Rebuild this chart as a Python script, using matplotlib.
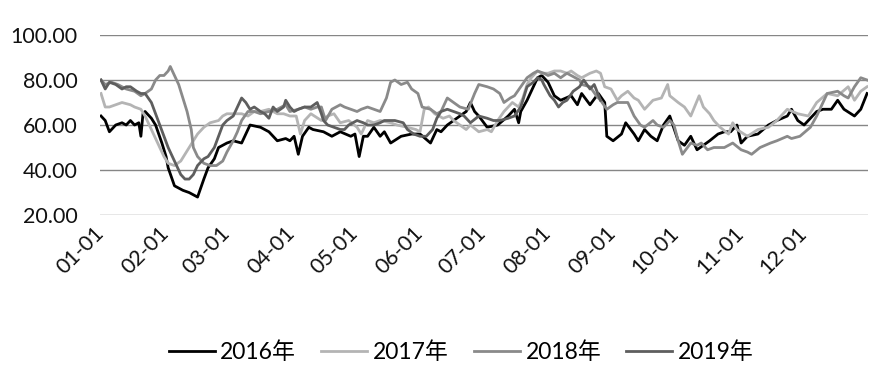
import matplotlib.pyplot as plt
import numpy as np

plt.rcParams['font.family'] = ['Lato', 'Noto Sans CJK SC', 'DejaVu Sans']

# day index on a 366-day (leap year) axis
days_2016 = [0, 2, 4, 7, 10, 12, 14, 16, 18, 19, 20, 21, 24, 26, 29, 31, 32, 35, 39, 42,
             44, 46, 49, 51, 54, 56, 60, 63, 67, 70, 71, 76, 80, 84, 88, 90, 92, 94, 96, 99,
             101, 106, 110, 114, 119, 121, 123, 125, 127, 130, 133, 135, 138, 143, 148, 152, 157, 160, 162, 165,
             168, 171, 174, 176, 178, 180, 184, 189, 194, 197, 199, 200, 203, 206, 208, 210, 213, 216, 219, 224,
             227, 229, 233, 237, 240, 241, 244, 248, 250, 254, 256, 259, 262, 265, 268, 271, 275, 278, 281, 284,
             287, 290, 294, 297, 300, 303, 305, 308, 313, 318, 322, 327, 329, 332, 335, 338, 341, 344, 348, 351,
             354, 359, 362, 365]
vals_2016 = [64, 62, 57, 60, 61, 60, 62, 60, 61, 55, 65, 66, 63, 60, 52, 46, 41, 33, 31, 30,
             29, 28, 36, 41, 45, 50, 52, 53, 52, 58, 60, 59, 57, 53, 54, 53, 55, 47, 55, 59,
             58, 57, 55, 57, 55, 56, 46, 55, 55, 59, 55, 57, 52, 55, 56, 56, 52, 58, 57, 60,
             62, 64, 66, 70, 66, 64, 59, 60, 64, 67, 61, 66, 71, 77, 81, 82, 79, 73, 71, 73,
             69, 74, 69, 74, 70, 55, 53, 56, 61, 56, 53, 58, 55, 53, 60, 64, 53, 51, 55, 49,
             51, 53, 56, 57, 57, 60, 52, 55, 56, 60, 62, 64, 67, 62, 60, 63, 66, 67, 67, 71,
             67, 64, 67, 74]

days_2017 = [0, 2, 4, 7, 10, 14, 16, 19, 21, 24, 26, 28, 30, 32, 35, 38, 40, 42, 44, 46,
             49, 52, 56, 58, 60, 63, 67, 70, 73, 76, 80, 84, 87, 90, 93, 95, 97, 100, 105, 108,
             111, 114, 118, 122, 124, 127, 130, 133, 138, 141, 146, 150, 152, 154, 156, 159, 163, 166, 168, 171,
             174, 176, 180, 184, 186, 189, 192, 196, 199, 201, 203, 205, 208, 210, 213, 216, 219, 222, 224, 227,
             229, 233, 236, 238, 240, 243, 246, 248, 251, 254, 256, 259, 263, 267, 270, 271, 275, 278, 281, 285,
             287, 290, 292, 295, 299, 301, 303, 308, 313, 318, 322, 327, 332, 337, 341, 346, 351, 356, 359, 362,
             365]
vals_2017 = [74, 68, 68, 69, 70, 69, 68, 67, 64, 58, 54, 50, 46, 43, 42, 44, 47, 50, 53, 56,
             59, 61, 62, 64, 65, 65, 65, 64, 66, 66, 67, 65, 65, 64, 64, 56, 62, 65, 62, 64,
             65, 61, 62, 59, 56, 62, 61, 62, 61, 60, 59, 58, 57, 67, 68, 65, 63, 64, 62, 60,
             58, 60, 57, 58, 57, 62, 66, 70, 68, 72, 78, 81, 84, 83, 83, 84, 84, 83, 84, 82,
             81, 83, 84, 83, 77, 76, 71, 73, 75, 72, 71, 67, 71, 72, 78, 73, 70, 68, 64, 73,
             68, 65, 62, 59, 56, 61, 58, 55, 58, 59, 62, 67, 65, 64, 70, 74, 73, 77, 71, 75,
             77]

days_2018 = [0, 2, 5, 8, 12, 16, 19, 21, 24, 26, 28, 30, 32, 33, 35, 37, 39, 41, 43, 44,
             46, 49, 52, 55, 58, 60, 63, 65, 67, 70, 73, 76, 80, 84, 88, 90, 94, 97, 100, 103,
             105, 107, 110, 114, 116, 119, 122, 124, 127, 130, 133, 136, 138, 140, 143, 146, 148, 151, 153, 157,
             160, 162, 165, 168, 171, 175, 178, 180, 184, 187, 190, 192, 195, 197, 200, 203, 206, 208, 211, 213,
             216, 219, 222, 224, 228, 229, 233, 236, 238, 241, 244, 246, 251, 254, 257, 259, 263, 265, 268, 271,
             273, 275, 277, 281, 284, 286, 289, 292, 294, 297, 301, 305, 308, 310, 314, 319, 322, 327, 329, 333,
             338, 341, 343, 346, 351, 354, 356, 359, 362, 365]
vals_2018 = [80, 78, 79, 78, 76, 75, 73, 74, 76, 80, 82, 82, 84, 86, 82, 78, 72, 66, 58, 50,
             46, 43, 42, 42, 44, 48, 53, 57, 62, 66, 66, 65, 66, 67, 69, 66, 67, 68, 67, 68,
             68, 62, 67, 69, 68, 67, 66, 67, 68, 67, 66, 72, 79, 80, 78, 79, 76, 74, 68, 67,
             65, 66, 72, 70, 68, 67, 74, 78, 77, 76, 74, 70, 72, 73, 77, 81, 83, 84, 83, 82,
             83, 81, 83, 82, 80, 78, 77, 73, 71, 67, 69, 70, 70, 64, 60, 59, 62, 60, 59, 62,
             60, 53, 47, 52, 51, 52, 49, 50, 50, 50, 52, 49, 48, 47, 50, 52, 53, 55, 54, 55,
             59, 64, 68, 74, 75, 73, 72, 77, 81, 80]

days_2019 = [0, 2, 4, 7, 10, 12, 14, 17, 19, 21, 24, 26, 28, 30, 32, 35, 38, 40, 42, 44,
             46, 49, 51, 54, 56, 58, 60, 63, 65, 67, 69, 71, 73, 76, 78, 80, 82, 84, 87, 88,
             90, 92, 94, 97, 100, 103, 105, 106, 108, 111, 114, 116, 118, 122, 125, 127, 130, 133, 135, 138,
             140, 144, 146, 149, 152, 155, 158, 160, 162, 165, 168, 171, 173, 176, 180, 184, 187, 190, 194, 197,
             200, 203, 206, 208, 210, 211, 214, 216, 218, 220, 222, 225, 228, 230, 233, 235, 238]
vals_2019 = [80, 76, 79, 78, 76, 77, 77, 75, 74, 74, 70, 65, 60, 55, 50, 44, 38, 36, 36, 38,
             42, 45, 46, 50, 55, 60, 62, 64, 68, 72, 70, 67, 68, 66, 65, 63, 68, 66, 68, 71,
             68, 66, 67, 68, 68, 70, 65, 62, 60, 59, 58, 58, 60, 62, 61, 60, 60, 61, 62, 62,
             62, 61, 58, 56, 55, 55, 58, 63, 66, 67, 66, 65, 64, 61, 64, 63, 62, 62, 63, 64,
             68, 77, 79, 81, 80, 78, 73, 71, 68, 70, 71, 75, 77, 80, 76, 78, 71]

tick_days = [0, 31, 60, 91, 121, 152, 182, 213, 244, 274, 305, 335]
tick_labels = ['01-01', '02-01', '03-01', '04-01', '05-01', '06-01',
               '07-01', '08-01', '09-01', '10-01', '11-01', '12-01']

fig = plt.figure(figsize=(8.87, 3.76), dpi=100)
ax = fig.add_axes([0.1127, 0.428, 0.866, 0.479])

ax.plot(days_2016, vals_2016, color='#000000', lw=2.0, label='2016年')
ax.plot(days_2017, vals_2017, color='#b4b4b4', lw=2.0, label='2017年')
ax.plot(days_2018, vals_2018, color='#8a8a8a', lw=2.0, label='2018年')
ax.plot(days_2019, vals_2019, color='#5e5e5e', lw=2.0, label='2019年')

ax.set_xlim(-0.5, 365.5)
ax.set_ylim(20, 100)
ax.set_yticks([20, 40, 60, 80, 100])
ax.set_yticklabels(['{:.2f}'.format(v) for v in [20, 40, 60, 80, 100]], fontsize=15.5)
ax.set_xticks(tick_days)
ax.set_xticklabels(tick_labels, fontsize=15.5, rotation=45, ha='right',
                   va='center', rotation_mode='anchor')
ax.tick_params(axis='both', length=0, labelcolor='#111111')
ax.tick_params(axis='y', pad=16)
ax.tick_params(axis='x', pad=11)
ax.grid(axis='y', color='#868686', lw=1.0)
ax.set_axisbelow(True)
for s in ax.spines.values():
    s.set_visible(False)

fig.legend(loc='center', bbox_to_anchor=(0.52, 0.064), ncol=4, frameon=False,
           fontsize=16.5, handlelength=2.0, handletextpad=0.25, columnspacing=1.1)

plt.savefig('out.png', dpi=100)
